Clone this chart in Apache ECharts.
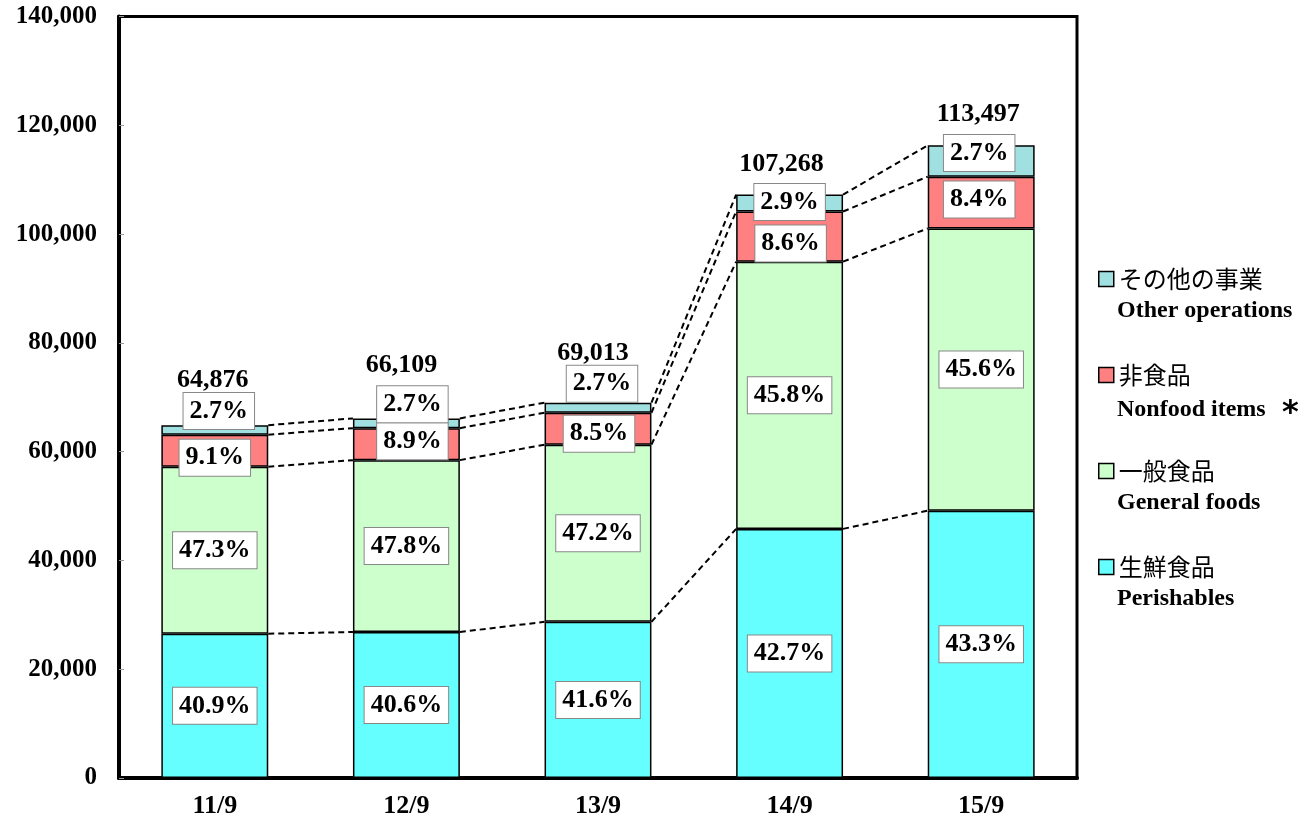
<!DOCTYPE html>
<html>
<head>
<meta charset="utf-8">
<script src="https://cdn.jsdelivr.net/npm/echarts@6/dist/echarts.min.js"></script>
<style>
  html, body { margin: 0; padding: 0; background: #fff; }
  #chart { width: 1305px; height: 821px; }
</style>
</head>
<body>
<div id="chart"></div>
<script>
// categories (year/month)
const categories = ['11/9', '12/9', '13/9', '14/9', '15/9'];

// segment values
const perishables = [26530, 26840, 28710, 45800, 49140];
const generalFoods = [30690, 31600, 32570, 49130, 51900];
const nonfoodItems = [5900, 5880, 5870, 9220, 9520];
const otherOps = [1750, 1790, 1860, 3110, 5760];

// label texts
const totalLabels = ['64,876', '66,109', '69,013', '107,268', '113,497'];
const pctPerishables = ['40.9%', '40.6%', '41.6%', '42.7%', '43.3%'];
const pctGeneral = ['47.3%', '47.8%', '47.2%', '45.8%', '45.6%'];
const pctNonfood = ['9.1%', '8.9%', '8.5%', '8.6%', '8.4%'];
const pctOther = ['2.7%', '2.7%', '2.7%', '2.9%', '2.7%'];

// y axis ticks
const yMin = 0;
const yMax = 140000;
const yStep = 20000;

const SERIF = '"Liberation Serif", "Times New Roman", serif';
const JP = '"Noto Sans CJK JP", sans-serif';
const BAR_RATIO = 0.558;

const chartInstance = echarts.init(document.getElementById('chart'));

// label nudges for the small segments
const otherShift = [[4, -19], [6, -19], [4, -24], [0, -1], [-2, -8]];
const nonfoodShift = [[0, 7], [6, -3], [1, 5], [1, 7], [-2, -3]];
const totalShift = [[-2, -45], [-5, -53], [-5, -49], [-8, -30], [-3, -31]];

const pctLabel = {
  show: true,
  position: 'inside',
  color: '#000',
  fontFamily: SERIF,
  fontWeight: 'bold',
  fontSize: 26,
  lineHeight: 26,
  backgroundColor: '#fff',
  borderColor: '#888',
  borderWidth: 1,
  padding: [5, 6]
};

function barSeries (name, values, pct, color, shift) {
  return {
    name: name,
    type: 'bar',
    stack: 'total',
    barWidth: (BAR_RATIO * 100) + '%',
    itemStyle: { color: color, borderColor: '#000', borderWidth: 1.5 },
    label: Object.assign({}, pctLabel, {
      formatter: p => pct[p.dataIndex]
    }),
    data: values.map((v, i) => {
      const item = { value: v };
      if (shift) item.label = { offset: shift[i] };
      return item;
    }),
    z: 3
  };
}

// cumulative tops for the connector lines
const layers = [perishables, generalFoods, nonfoodItems, otherOps];
const cum = [];
let run = categories.map(() => 0);
layers.forEach(arr => {
  run = run.map((v, i) => v + arr[i]);
  cum.push(run.slice());
});

const connectorData = [];
cum.forEach(level => {
  for (let i = 0; i < categories.length - 1; i++) {
    connectorData.push([i, level[i], i + 1, level[i + 1]]);
  }
});

const tops = cum[cum.length - 1];

chartInstance.setOption({
  animation: false,
  grid: {
    left: 119,
    right: 228,
    top: 16.5,
    bottom: 43,
    show: true,
    borderColor: '#000',
    borderWidth: 3,
    containLabel: false
  },
  legend: {
    orient: 'vertical',
    left: 1098,
    top: 264,
    padding: 0,
    itemWidth: 15,
    itemHeight: 15,
    itemGap: 66,
    icon: 'rect',
    itemStyle: { borderColor: '#000', borderWidth: 1.5 },
    textStyle: { color: '#000', fontFamily: JP, fontSize: 24, lineHeight: 30 },
    data: ['その他の事業', '非食品', '一般食品', '生鮮食品']
  },
  xAxis: {
    type: 'category',
    data: categories,
    axisTick: { show: false },
    axisLine: { show: true, lineStyle: { color: '#000', width: 4 } },
    axisLabel: {
      color: '#000',
      fontFamily: SERIF,
      fontWeight: 'bold',
      fontSize: 26,
      margin: 15
    }
  },
  yAxis: {
    type: 'value',
    min: yMin,
    max: yMax,
    interval: yStep,
    splitLine: { show: false },
    axisLine: { show: true, lineStyle: { color: '#000', width: 4 } },
    axisTick: { show: true, inside: true, length: 5, lineStyle: { color: '#999' } },
    axisLabel: {
      color: '#000',
      fontFamily: SERIF,
      fontWeight: 'bold',
      fontSize: 25,
      margin: 22,
      formatter: v => v.toLocaleString('en-US')
    }
  },
  graphic: [
    { type: 'text', x: 1117, y: 311, style: { text: 'Other operations', font: 'bold 24px ' + SERIF, fill: '#000', verticalAlign: 'middle' } },
    { type: 'text', x: 1117, y: 410, style: { text: 'Nonfood items', font: 'bold 24px ' + SERIF, fill: '#000', verticalAlign: 'middle' } },
    { type: 'text', x: 1282, y: 414, style: { text: '*', font: 'bold 32px "DejaVu Sans", sans-serif', fill: '#000', verticalAlign: 'middle' } },
    { type: 'text', x: 1117, y: 503, style: { text: 'General foods', font: 'bold 24px ' + SERIF, fill: '#000', verticalAlign: 'middle' } },
    { type: 'text', x: 1117, y: 599, style: { text: 'Perishables', font: 'bold 24px ' + SERIF, fill: '#000', verticalAlign: 'middle' } }
  ],
  series: [
    barSeries('生鮮食品', perishables, pctPerishables, '#66FFFF'),
    barSeries('一般食品', generalFoods, pctGeneral, '#CCFFCC'),
    barSeries('非食品', nonfoodItems, pctNonfood, '#FF8080', nonfoodShift),
    barSeries('その他の事業', otherOps, pctOther, '#A0E0E0', otherShift),
    {
      // dashed lines joining the segment tops of neighbouring bars
      type: 'custom',
      silent: true,
      z: 2,
      renderItem: (params, api) => {
        const p0 = api.coord([api.value(0), api.value(1)]);
        const p1 = api.coord([api.value(2), api.value(3)]);
        const half = api.size([1, 0])[0] * BAR_RATIO / 2;
        return {
          type: 'line',
          shape: { x1: p0[0] + half, y1: p0[1], x2: p1[0] - half, y2: p1[1] },
          style: { stroke: '#000', lineWidth: 2, lineDash: [6, 4] }
        };
      },
      data: connectorData
    },
    {
      // totals above the bars
      type: 'scatter',
      symbolSize: 0,
      silent: true,
      z: 4,
      itemStyle: { opacity: 1 },
      label: {
        show: true,
        position: 'inside',
        color: '#000',
        fontFamily: SERIF,
        fontWeight: 'bold',
        fontSize: 26,
        formatter: p => totalLabels[p.dataIndex]
      },
      data: tops.map((v, i) => ({ value: v, label: { offset: totalShift[i] } }))
    }
  ]
});
</script>
</body>
</html>
